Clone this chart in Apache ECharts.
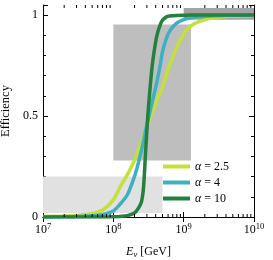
<!DOCTYPE html>
<html><head><meta charset="utf-8">
<script src="https://cdn.jsdelivr.net/npm/echarts@6/dist/echarts.min.js"></script>
<style>html,body{margin:0;padding:0;background:#fff}#c{width:273px;height:260px}</style>
</head><body><div id="c"></div>
<script>
// log10(E/GeV) sample positions
const logE = [7.0, 7.3, 7.5, 7.7, 7.85, 8.0, 8.1, 8.2, 8.3, 8.35, 8.4, 8.43, 8.46, 8.49, 8.52, 8.55, 8.58, 8.62, 8.67, 8.7, 8.75, 8.8, 8.9, 9.0, 9.1, 9.2, 9.4, 9.7, 10.0];
const effA25 = [0.002, 0.005, 0.009, 0.018, 0.035, 0.085, 0.15, 0.21, 0.28, 0.325, 0.37, 0.40, 0.43, 0.46, 0.49, 0.515, 0.54, 0.58, 0.62, 0.645, 0.70, 0.75, 0.84, 0.905, 0.945, 0.965, 0.985, 0.995, 0.998];
const effA4 = [0.0, 0.001, 0.002, 0.006, 0.013, 0.03, 0.065, 0.11, 0.2, 0.26, 0.33, 0.38, 0.43, 0.475, 0.52, 0.565, 0.61, 0.67, 0.76, 0.82, 0.88, 0.92, 0.96, 0.978, 0.987, 0.992, 0.996, 0.999, 1.0];
const effA10 = [0, 0, 0, 0, 0, 0.001, 0.003, 0.007, 0.02, 0.04, 0.075, 0.15, 0.33, 0.5, 0.63, 0.74, 0.82, 0.9, 0.955, 0.975, 0.99, 0.995, 0.998, 0.999, 1.0, 1.0, 1.0, 1.0, 1.0];
const seriesNames = ['α = 2.5', 'α = 4', 'α = 10'];
// shaded boxes: [Emin, effMin, Emax, effMax]
const boxLight = [1e7, 0.02, 5e8, 0.2];
const boxMid = [1e8, 0.28, 1.27e9, 0.953];
const boxDark = [1e9, 0.977, 1e10, 1.035];
const yTickLabels = [0, 0.5, 1];

const colors = ['#c5e03a', '#3fb0c3', '#23803d'];
const serif = 'Liberation Serif';

function pts(arr){ return logE.map((l,i)=>[Math.pow(10,l), arr[i]]); }

const minorX = [];
for (let d = 7; d < 10; d++) for (let m = 2; m <= 9; m++) minorX.push([m*Math.pow(10,d)]);

function boxSeries(b, color){
  return {type:'custom', silent:true, z:1, clip:true, data:[b],
    renderItem:(p, api)=>{
      const a = api.coord([api.value(0), api.value(1)]);
      const c = api.coord([api.value(2), api.value(3)]);
      return {type:'rect', shape:{x:a[0], y:c[1], width:c[0]-a[0], height:a[1]-c[1]}, style:{fill:color}};
    }};
}

const chart = echarts.init(document.getElementById('c'));
const axisLine = {show:true, lineStyle:{color:'#000', width:1}};
const tick = {show:true, inside:true, length:5, lineStyle:{color:'#000'}};
chart.setOption({
  animation:false,
  grid:{left:43, right:19, top:5, bottom:43, containLabel:false, outerBoundsMode:'none'},
  xAxis:[{
    type:'log', logBase:10, min:1e7, max:1e10, interval:1, position:'bottom',
    axisLine, axisTick:tick, splitLine:{show:false},
    axisLabel:{margin:5, color:'#000', fontFamily:serif, fontSize:12,
      formatter:v=>{const e=Math.round(Math.log10(v)); return '{b|10}{s|'+e+'}';},
      rich:{b:{fontFamily:serif, fontSize:12, color:'#000'}, s:{fontFamily:serif, fontSize:8.5, color:'#000', verticalAlign:'bottom', padding:[0,0,6,0]}}},
    name:'{i|E}{sub|ν} [GeV]', nameLocation:'middle', nameGap:27,
    nameTextStyle:{fontFamily:serif, fontSize:12, color:'#000',
      rich:{i:{fontFamily:serif, fontStyle:'italic', fontSize:12, color:'#000'}, sub:{fontFamily:serif, fontStyle:'italic', fontSize:8.5, color:'#000', verticalAlign:'top', padding:[6,0,0,0]}}}
  },{
    type:'log', logBase:10, min:1e7, max:1e10, interval:1, position:'top',
    axisLine, axisTick:tick, axisLabel:{show:false}, splitLine:{show:false}
  }],
  yAxis:[{
    type:'value', min:0, max:1.05, interval:0.5, position:'left',
    axisLine, axisTick:tick,
    minorTick:{show:true, splitNumber:5, length:3, lineStyle:{color:'#000'}},
    splitLine:{show:false}, minorSplitLine:{show:false},
    axisLabel:{margin:5, color:'#000', fontFamily:serif, fontSize:12,
      formatter:v=>{const r=Math.round(v*100)/100; return yTickLabels.indexOf(r)>=0 ? String(r) : '';}},
    name:'Efficiency', nameLocation:'middle', nameGap:27,
    nameTextStyle:{fontFamily:serif, fontSize:12.5, color:'#000'}
  },{
    type:'value', min:0, max:1.05, interval:0.5, position:'right',
    axisLine, axisTick:tick,
    minorTick:{show:true, splitNumber:5, length:3, lineStyle:{color:'#000'}},
    splitLine:{show:false}, minorSplitLine:{show:false}, axisLabel:{show:false}
  }],
  legend:{
    data:seriesNames, orient:'vertical', left:163, top:160, itemGap:3, padding:0,
    icon:'rect', itemWidth:27, itemHeight:4,
    formatter:n=>n.replace('α','{i|α}'),
    textStyle:{fontFamily:serif, fontSize:12, color:'#000', lineHeight:13, rich:{i:{fontFamily:serif, fontStyle:'italic', fontSize:12, color:'#000'}}}
  },
  series:[
    boxSeries(boxLight, '#e1e1e1'),
    boxSeries(boxMid, '#bebebe'),
    boxSeries(boxDark, '#a3a3a3'),
    {type:'custom', silent:true, z:5, clip:false, data:minorX,
      renderItem:(p, api)=>{
        const b = api.coord([api.value(0), 0]);
        const t = api.coord([api.value(0), 1.05]);
        return {type:'group', children:[
          {type:'line', shape:{x1:b[0], y1:b[1], x2:b[0], y2:b[1]-3}, style:{stroke:'#000', lineWidth:1}},
          {type:'line', shape:{x1:t[0], y1:t[1], x2:t[0], y2:t[1]+3}, style:{stroke:'#000', lineWidth:1}}
        ]};
      }},
    {name:seriesNames[0], type:'line', data:pts(effA25), smooth:0.25, showSymbol:false, z:3, lineStyle:{color:colors[0], width:3.5}, itemStyle:{color:colors[0]}},
    {name:seriesNames[1], type:'line', data:pts(effA4), smooth:0.25, showSymbol:false, z:3, lineStyle:{color:colors[1], width:3.5}, itemStyle:{color:colors[1]}},
    {name:seriesNames[2], type:'line', data:pts(effA10), smooth:0.25, showSymbol:false, z:3, lineStyle:{color:colors[2], width:3.5}, itemStyle:{color:colors[2]}}
  ]
});
</script></body></html>
